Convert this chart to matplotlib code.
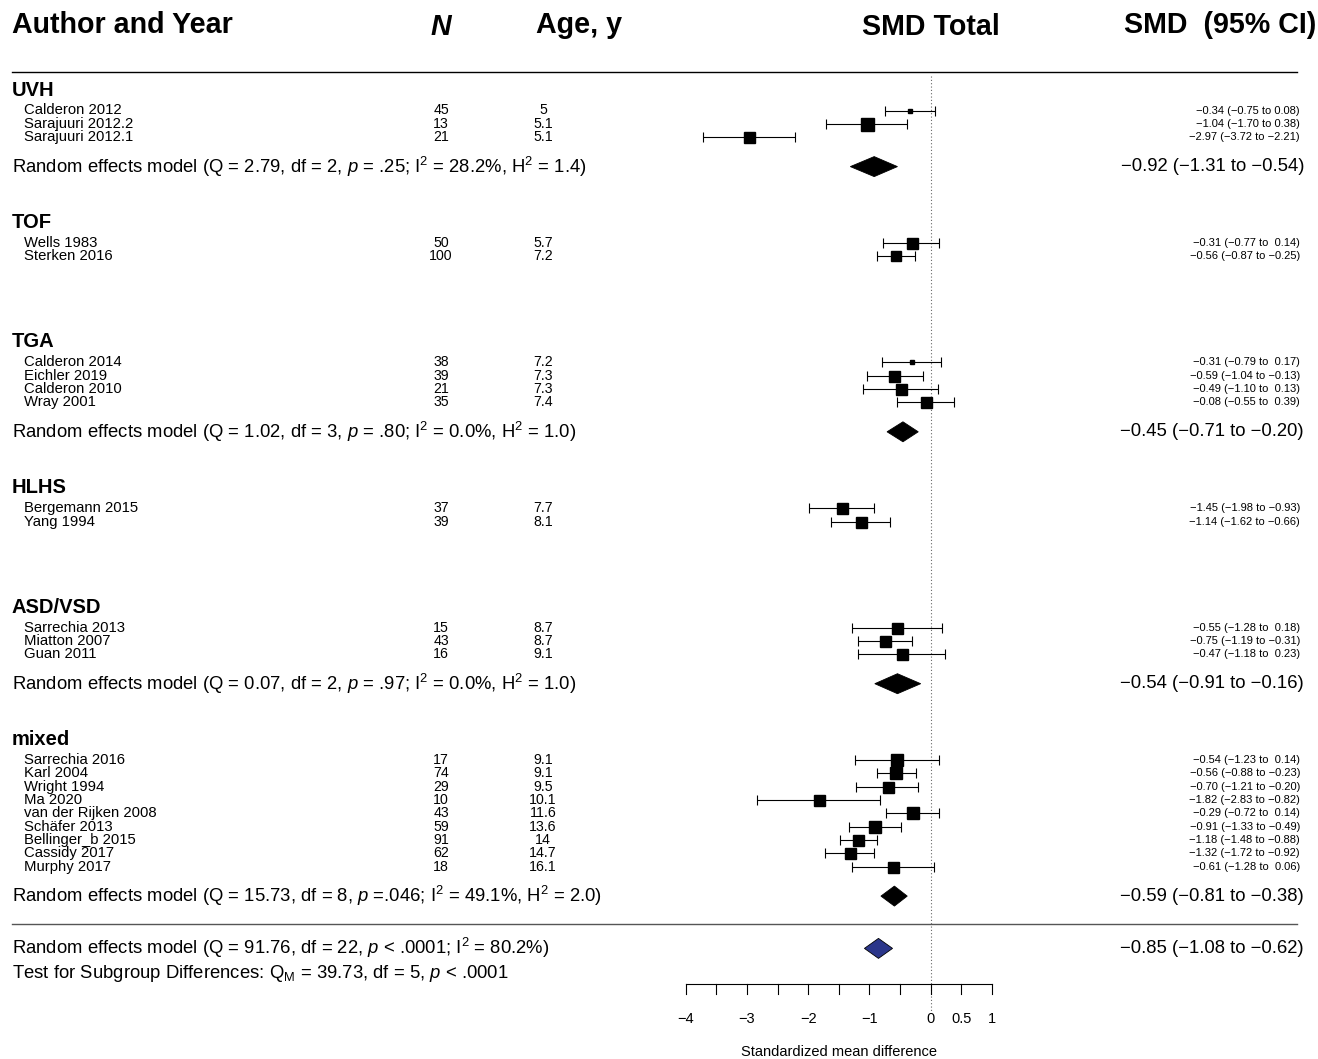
import numpy as np
import matplotlib.pyplot as plt
from matplotlib.patches import Polygon

plt.rcParams['font.family'] = 'Liberation Sans'
plt.rcParams['mathtext.fontset'] = 'custom'
plt.rcParams['mathtext.rm'] = 'Liberation Sans'
plt.rcParams['mathtext.it'] = 'Liberation Sans:italic'

# subgroups
group_names = ['UVH', 'TOF', 'TGA', 'HLHS', 'ASD/VSD', 'mixed']
group_sizes = [3, 2, 4, 2, 3, 9]

# studies
authors = ['Calderon 2012', 'Sarajuuri 2012.2', 'Sarajuuri 2012.1',
           'Wells 1983', 'Sterken 2016',
           'Calderon 2014', 'Eichler 2019', 'Calderon 2010', 'Wray 2001',
           'Bergemann 2015', 'Yang 1994',
           'Sarrechia 2013', 'Miatton 2007', 'Guan 2011',
           'Sarrechia 2016', 'Karl 2004', 'Wright 1994', 'Ma 2020',
           'van der Rijken 2008', 'Schäfer 2013', 'Bellinger_b 2015',
           'Cassidy 2017', 'Murphy 2017']
n_pat = [45, 13, 21, 50, 100, 38, 39, 21, 35, 37, 39, 15, 43, 16,
         17, 74, 29, 10, 43, 59, 91, 62, 18]
age = [5, 5.1, 5.1, 5.7, 7.2, 7.2, 7.3, 7.3, 7.4, 7.7, 8.1, 8.7, 8.7, 9.1,
       9.1, 9.1, 9.5, 10.1, 11.6, 13.6, 14, 14.7, 16.1]
smd = [-0.34, -1.04, -2.97, -0.31, -0.56, -0.31, -0.59, -0.49, -0.08,
       -1.45, -1.14, -0.55, -0.75, -0.47, -0.54, -0.56, -0.70, -1.82,
       -0.29, -0.91, -1.18, -1.32, -0.61]
ci_lo = [-0.75, -1.70, -3.72, -0.77, -0.87, -0.79, -1.04, -1.10, -0.55,
         -1.98, -1.62, -1.28, -1.19, -1.18, -1.23, -0.88, -1.21, -2.83,
         -0.72, -1.33, -1.48, -1.72, -1.28]
ci_hi = [0.08, -0.38, -2.21, 0.14, -0.25, 0.17, -0.13, 0.13, 0.39,
         -0.93, -0.66, 0.18, -0.31, 0.23, 0.14, -0.23, -0.20, -0.82,
         0.14, -0.49, -0.88, -0.92, 0.06]
ci_text = ['−0.34 (−0.75 to 0.08)', '−1.04 (−1.70 to 0.38)', '−2.97 (−3.72 to −2.21)',
           '−0.31 (−0.77 to  0.14)', '−0.56 (−0.87 to −0.25)',
           '−0.31 (−0.79 to  0.17)', '−0.59 (−1.04 to −0.13)',
           '−0.49 (−1.10 to  0.13)', '−0.08 (−0.55 to  0.39)',
           '−1.45 (−1.98 to −0.93)', '−1.14 (−1.62 to −0.66)',
           '−0.55 (−1.28 to  0.18)', '−0.75 (−1.19 to −0.31)', '−0.47 (−1.18 to  0.23)',
           '−0.54 (−1.23 to  0.14)', '−0.56 (−0.88 to −0.23)', '−0.70 (−1.21 to −0.20)',
           '−1.82 (−2.83 to −0.82)', '−0.29 (−0.72 to  0.14)', '−0.91 (−1.33 to −0.49)',
           '−1.18 (−1.48 to −0.88)', '−1.32 (−1.72 to −0.92)', '−0.61 (−1.28 to  0.06)']
# square side in pixels (study weight)
sq_px = [4, 13, 11, 11, 10, 4, 11, 11, 11, 11, 11, 11, 11, 11,
         12, 12, 11, 11, 12, 12, 11, 11, 11]

# subgroup random effects models (None = not shown)
re_est = [-0.92, None, -0.45, None, -0.54, -0.59]
re_lo = [-1.31, None, -0.71, None, -0.91, -0.81]
re_hi = [-0.54, None, -0.20, None, -0.16, -0.38]
re_label = [
    r'Random effects model (Q = 2.79, df = 2, $\mathit{p}$ = .25; I$^2$ = 28.2%, H$^2$ = 1.4)',
    None,
    r'Random effects model (Q = 1.02, df = 3, $\mathit{p}$ = .80; I$^2$ = 0.0%, H$^2$ = 1.0)',
    None,
    r'Random effects model (Q = 0.07, df = 2, $\mathit{p}$ = .97; I$^2$ = 0.0%, H$^2$ = 1.0)',
    r'Random effects model (Q = 15.73, df = 8, $\mathit{p}$ =.046; I$^2$ = 49.1%, H$^2$ = 2.0)',
]
overall = (-0.85, -1.08, -0.62)
overall_label = r'Random effects model (Q = 91.76, df = 22, $\mathit{p}$ < .0001; I$^2$ = 80.2%)'
test_label = r'Test for Subgroup Differences: Q$_\mathregular{M}$ = 39.73, df = 5, $\mathit{p}$ < .0001'

axis_ticks = np.arange(-4, 1.01, 0.5)
axis_labels = {-4: '−4', -3: '−3', -2: '−2', -1: '−1', 0: '0', 0.5: '0.5', 1: '1'}

# ---- figure: one axes over the whole canvas, y in pixel rows ----
W, H = 1318, 1059
fig = plt.figure(figsize=(W / 100, H / 100), dpi=100)
ax = fig.add_axes([0, 0, 1, 1])
x0, scale = 930.5, 61.2          # pixel of SMD = 0, pixels per unit
ax.set_xlim(-x0 / scale, (W - x0) / scale)
ax.set_ylim(H, 0)
ax.axis('off')

def px(p):
    return (p - x0) / scale

# header
hy = 25
ax.text(px(12), hy, 'Author and Year', fontsize=20.6, fontweight='bold', va='center')
ax.text(px(441), hy + 2, 'N', fontsize=20.6, fontweight='bold', style='italic', va='center', ha='center')
ax.text(px(579), hy, 'Age, y', fontsize=20.6, fontweight='bold', va='center', ha='center')
ax.text(0, hy + 2, 'SMD Total', fontsize=20.6, fontweight='bold', va='center', ha='center')
ax.text(px(1316), hy, 'SMD  (95% CI)', fontsize=20.6, fontweight='bold', va='center', ha='right')
ax.plot([px(12), px(1297)], [72.3, 72.3], color='black', lw=1)

dy = 13.3
y = 90
k = 0
for g, name in enumerate(group_names):
    ax.text(px(12), y, name, fontsize=14.5, fontweight='bold', va='center')
    ys = y + 20.5 + dy * np.arange(group_sizes[g])
    for yy in ys:
        ax.text(px(24), yy, authors[k], fontsize=10.7, va='center')
        ax.text(px(441), yy, str(n_pat[k]), fontsize=10.2, va='center', ha='center')
        ax.text(px(543), yy, '%g' % age[k], fontsize=10.2, va='center', ha='center')
        ax.text(px(1300), yy, ci_text[k], fontsize=8, va='center', ha='right')
        ax.errorbar(smd[k], yy, xerr=[[smd[k] - ci_lo[k]], [ci_hi[k] - smd[k]]],
                    fmt='none', ecolor='black', elinewidth=0.8, capsize=3.6, capthick=0.8)
        ax.plot(smd[k], yy, marker='s', color='black', markersize=sq_px[k] * 0.72, zorder=3)
        k += 1
    re_y = ys[-1] + 29.5
    if re_est[g] is not None:
        ax.text(px(12), re_y, re_label[g], fontsize=13.3, va='center')
        ax.add_patch(Polygon([(re_lo[g], re_y), (re_est[g], re_y - 10),
                              (re_hi[g], re_y), (re_est[g], re_y + 10)],
                             closed=True, facecolor='black', edgecolor='black', lw=0.6))
        ax.text(px(1304), re_y, ('%.2f (%.2f to %.2f)' % (re_est[g], re_lo[g], re_hi[g])).replace('-', '−'),
                fontsize=13.3, va='center', ha='right')
    last_re = re_y
    y = re_y + 56

# overall
line_y = last_re + 28
ax.plot([px(12), px(1297)], [line_y, line_y], color='#555555', lw=1)
oy = line_y + 24.3
ax.text(px(12), oy, overall_label, fontsize=13.3, va='center')
est, lo, hi = overall
ax.add_patch(Polygon([(lo, oy), (est, oy - 10), (hi, oy), (est, oy + 10)],
                     closed=True, facecolor='#2b368a', edgecolor='black', lw=0.6))
ax.text(px(1304), oy, ('%.2f (%.2f to %.2f)' % overall).replace('-', '−'),
        fontsize=13.3, va='center', ha='right')
ax.text(px(12), oy + 25, test_label, fontsize=13.3, va='center')

# reference line at 0
ax.plot([0, 0], [76, 1013], color='#666666', lw=0.8, ls=(0, (1, 2)), zorder=0)

# x axis
ay = 984
ax.plot([axis_ticks[0], axis_ticks[-1]], [ay, ay], color='black', lw=0.8)
for t in axis_ticks:
    ax.plot([t, t], [ay, ay + 10], color='black', lw=0.8)
    if t in axis_labels:
        ax.text(t, 1019, axis_labels[t], fontsize=10.5, ha='center', va='center')
ax.text((axis_ticks[0] + axis_ticks[-1]) / 2, 1052, 'Standardized mean difference',
        fontsize=10.5, ha='center', va='center')

fig.savefig('out.png', dpi=100)
